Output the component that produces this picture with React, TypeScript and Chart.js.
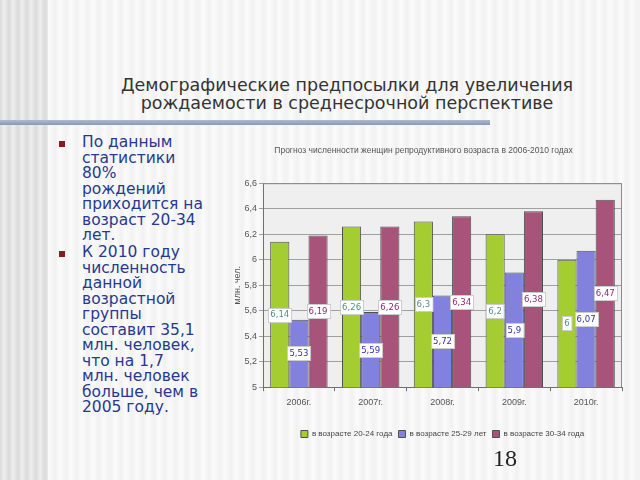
import React, { useEffect, useRef } from "react";
import { Chart, registerables } from "chart.js";

Chart.register(...registerables);

const years = ["2006г.", "2007г.", "2008г.", "2009г.", "2010г."];
const age2024 = [6.14, 6.26, 6.3, 6.2, 6.0];
const age2529 = [5.53, 5.59, 5.72, 5.9, 6.07];
const age3034 = [6.19, 6.26, 6.34, 6.38, 6.47];
const seriesNames = ["в возрасте 20-24 года", "в возрасте 25-29 лет", "в возрасте 30-34 года"];
const chartTitle = "Прогноз численности женщин репродуктивного возраста в 2006-2010 годах";
const yTitle = "млн. чел.";
const yMin = 5;
const yMax = 6.6;
const yStep = 0.2;

const slideTitle = ["Демографические предпосылки для увеличения", "рождаемости в среднесрочной перспективе"];
const bullet1 = ["По данным", "статистики", "80%", "рождений", "приходится на", "возраст 20-34", "лет."];
const bullet2 = ["К 2010 году", "численность", "данной", "возрастной", "группы", "составит 35,1", "млн. человек,", "что на 1,7", "млн. человек", "больше, чем в", "2005 году."];
const pageNumber = "18";

const fillColors = ["#a3cd30", "#8282de", "#a7537a"];
const labelColors = ["#4f8f86", "#3232a8", "#8a2f72"];

const fmt = (v: number) => String(Math.round(v * 100) / 100).replace(".", ",");

const plotBg = {
  id: "plotBg",
  beforeDraw(chart: any) {
    const { ctx, chartArea: a } = chart;
    ctx.save();
    ctx.fillStyle = "#efefef";
    ctx.fillRect(a.left, a.top, a.right - a.left, a.bottom - a.top);
    ctx.restore();
  },
};

const valueLabels = {
  id: "valueLabels",
  afterDraw(chart: any) {
    const ctx = chart.ctx;
    const a = chart.chartArea;
    const yScale = chart.scales.y;
    ctx.save();
    ctx.strokeStyle = "#8a8a8a";
    ctx.lineWidth = 1;
    ctx.beginPath();
    ctx.moveTo(a.left, a.top + 0.5);
    ctx.lineTo(a.right - 0.5, a.top + 0.5);
    ctx.lineTo(a.right - 0.5, a.bottom);
    ctx.stroke();
    ctx.font = "9.5px 'DejaVu Sans Condensed', 'DejaVu Sans', sans-serif";
    ctx.textAlign = "center";
    ctx.textBaseline = "middle";
    const basePx = yScale.getPixelForValue(yMin);
    for (let di = 0; di < chart.data.datasets.length; di++) {
      const ds = chart.data.datasets[di];
      const meta = chart.getDatasetMeta(di);
      for (let i = 0; i < ds.data.length; i++) {
        const el = meta.data[i];
        if (!el) continue;
        const v = Number(ds.data[i]);
        const txt = fmt(v);
        const topPx = yScale.getPixelForValue(v);
        const cy = (topPx + basePx) / 2;
        const cx = el.x;
        const w = ctx.measureText(txt).width + 4;
        const h = 14;
        const x0 = Math.round(cx - w / 2) + 0.5;
        const y0 = Math.round(cy - h / 2) + 0.5;
        ctx.fillStyle = "#ffffff";
        ctx.fillRect(x0, y0, w, h);
        ctx.strokeStyle = "#cccccc";
        ctx.strokeRect(x0, y0, w, h);
        ctx.fillStyle = labelColors[di];
        ctx.fillText(txt, cx, cy + 0.5);
      }
    }
    ctx.restore();
  },
};

function BarChart() {
  const ref = useRef<HTMLCanvasElement | null>(null);
  useEffect(() => {
    if (!ref.current) return;
    const series = [age2024, age2529, age3034];
    const chart = new Chart(ref.current, {
      type: "bar",
      data: {
        labels: years,
        datasets: series.map((d, i) => ({
          label: seriesNames[i],
          data: d,
          backgroundColor: fillColors[i],
          borderColor: "#505050",
          borderWidth: 1,
          categoryPercentage: 0.8,
          barPercentage: 1.0,
        })),
      },
      options: {
        responsive: false,
        animation: false,
        layout: { padding: { left: 0, right: 3, top: 0, bottom: 2 } },
        plugins: {
          title: {
            display: true,
            text: chartTitle,
            color: "#555555",
            font: { family: "'Liberation Sans', Arial, sans-serif", size: 8.5, weight: "normal" },
            padding: { top: 6, bottom: 27 },
          },
          legend: {
            position: "bottom",
            fullSize: false,
            labels: {
              boxWidth: 7,
              boxHeight: 7,
              padding: 6,
              color: "#444444",
              font: { family: "'Liberation Sans', Arial, sans-serif", size: 8 },
            },
          },
          tooltip: { enabled: false },
        },
        scales: {
          x: {
            offset: true,
            afterFit(scale: any) {
              scale.height = scale.height + 10;
            },
            grid: { offset: true, drawOnChartArea: false, tickLength: 4, color: "#707070" },
            border: { color: "#707070" },
            ticks: {
              color: "#555555",
              padding: 6,
              font: { family: "'Liberation Sans', Arial, sans-serif", size: 9 },
            },
          },
          y: {
            min: yMin,
            max: yMax,
            afterFit(scale: any) {
              scale.width = 38;
            },
            grid: { color: "#a0a0a0", tickLength: 4 },
            border: { color: "#707070" },
            ticks: {
              stepSize: yStep,
              color: "#555555",
              padding: 2,
              font: { family: "'Liberation Sans', Arial, sans-serif", size: 9 },
              callback: (v: any) => fmt(Number(v)),
            },
            title: {
              display: true,
              text: yTitle,
              color: "#555555",
              padding: { top: 7, bottom: 0 },
              font: { family: "'Liberation Sans', Arial, sans-serif", size: 9 },
            },
          },
        },
      },
      plugins: [plotBg, valueLabels],
    });
    return () => chart.destroy();
  }, []);
  return (
    <canvas
      ref={ref}
      width={400}
      height={310}
      style={{ position: "absolute", left: 225, top: 140, width: 400, height: 310 }}
    />
  );
}

export default function App() {
  const bulletText: React.CSSProperties = {
    position: "absolute",
    left: 82,
    fontFamily: "'DejaVu Sans', Verdana, sans-serif",
    fontSize: 15.5,
    lineHeight: "15.5px",
    color: "#27398f",
    whiteSpace: "nowrap",
  };
  const square: React.CSSProperties = {
    position: "absolute",
    left: 59,
    width: 6,
    height: 6,
    background: "#8b1a1a",
  };
  return (
    <div
      style={{
        position: "fixed",
        left: 0,
        top: 0,
        width: 640,
        height: 480,
        overflow: "hidden",
        background: "repeating-linear-gradient(90deg, #f1f1f1 0px, #fbfbfb 5px, #f1f1f1 11px)",
      }}
    >
      <div
        style={{
          position: "absolute",
          left: 0,
          top: 0,
          width: 48,
          height: 480,
          background: "repeating-linear-gradient(90deg, #dadada 0px, #eeeeee 4px, #dadada 9px)",
        }}
      />
      <div
        style={{
          position: "absolute",
          left: 47,
          top: 76,
          width: 600,
          textAlign: "center",
          fontFamily: "'DejaVu Sans', Verdana, sans-serif",
          fontSize: 17.5,
          lineHeight: "18px",
          color: "#333333",
        }}
      >
        {slideTitle.map((l, i) => (
          <div key={i}>{l}</div>
        ))}
      </div>
      <div
        style={{
          position: "absolute",
          left: 0,
          top: 120,
          width: 490,
          height: 5,
          background: "linear-gradient(#adbbcd, #8799b2)",
        }}
      />
      <div style={{ ...square, top: 141 }} />
      <div style={{ ...bulletText, top: 135 }}>
        {bullet1.map((l, i) => (
          <div key={i}>{l}</div>
        ))}
      </div>
      <div style={{ ...square, top: 251 }} />
      <div style={{ ...bulletText, top: 245 }}>
        {bullet2.map((l, i) => (
          <div key={i}>{l}</div>
        ))}
      </div>
      <BarChart />
      <div
        style={{
          position: "absolute",
          left: 493,
          top: 444,
          fontFamily: "'Liberation Serif', 'Times New Roman', serif",
          fontSize: 24,
          lineHeight: "28px",
          color: "#222222",
        }}
      >
        {pageNumber}
      </div>
    </div>
  );
}
